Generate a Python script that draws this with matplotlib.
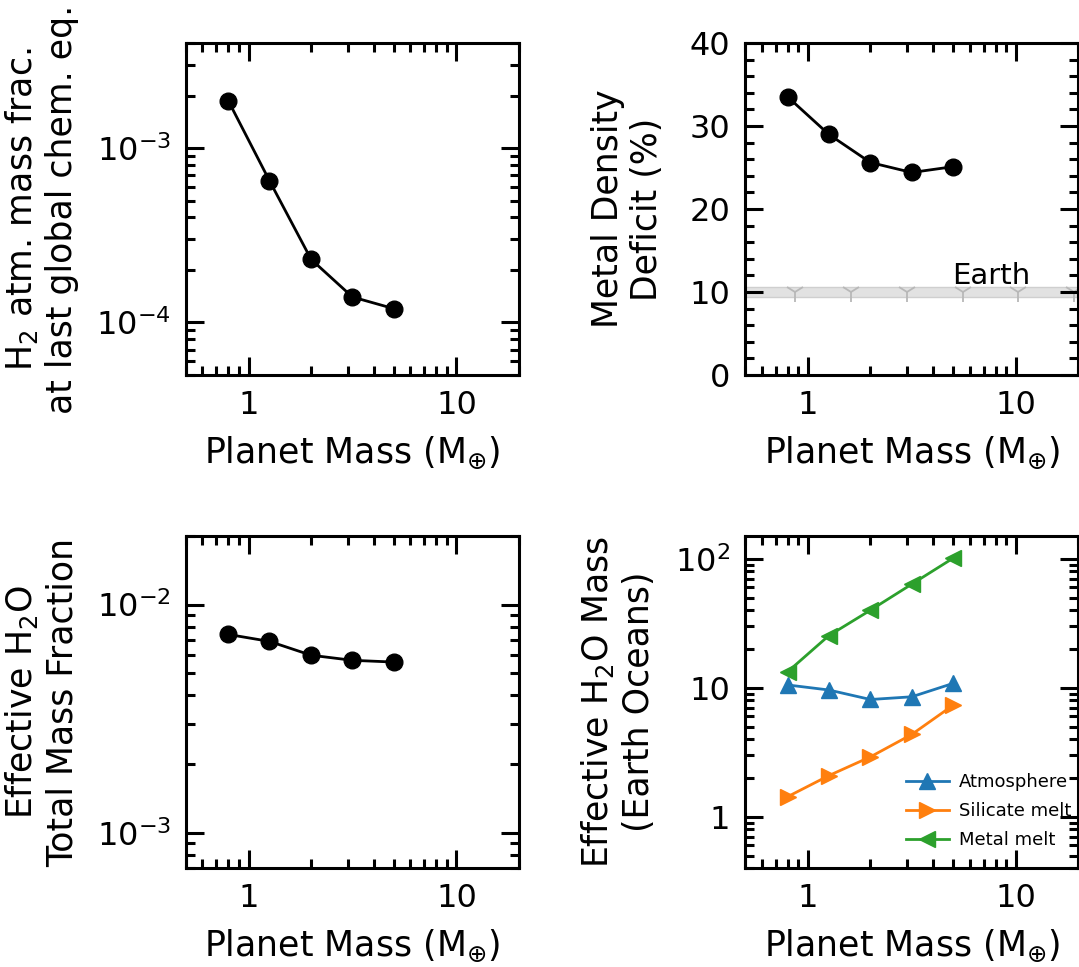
import numpy as np
import matplotlib
matplotlib.use('Agg')
import matplotlib.pyplot as plt
from matplotlib.ticker import LogLocator, MultipleLocator, NullFormatter

# font settings
plt.rcParams['font.family'] = ['DejaVu Sans']
plt.rcParams['mathtext.fontset'] = 'dejavusans'
plt.rcParams['mathtext.default'] = 'regular'
plt.rcParams['font.size'] = 23

# data
mass = [0.8, 1.26, 2.0, 3.16, 5.0]
h2_frac = [1.86e-3, 6.5e-4, 2.3e-4, 1.4e-4, 1.2e-4]
density_deficit = [33.5, 29.0, 25.6, 24.4, 25.1]
h2o_frac = [7.4e-3, 6.9e-3, 6.0e-3, 5.7e-3, 5.6e-3]
oceans_atm = [10.5, 9.6, 8.1, 8.5, 10.8]
oceans_sil = [1.43, 2.08, 2.91, 4.34, 7.32]
oceans_met = [13.3, 25.3, 39.9, 63.5, 101.0]

# Earth reference band
earth_deficit = 10.0
earth_band = [9.4, 10.6]
earth_marker_mass = [0.865, 1.62, 3.0, 5.57, 10.3, 19.1]

# ticks
mass_ticks = [1, 10]
mass_ticklabels = ['1', '10']
h2_ticks = [1e-4, 1e-3]
h2_ticklabels = [r'10$^{-4}$', r'10$^{-3}$']
deficit_ticks = [0, 10, 20, 30, 40]
h2o_ticks = [1e-3, 1e-2]
h2o_ticklabels = [r'10$^{-3}$', r'10$^{-2}$']
ocean_ticks = [1, 10, 100]
ocean_ticklabels = ['1', '10', r'10$^{2}$']

xlabel = r'Planet Mass (M$_{\oplus}$)'
LABEL_FS = 25
TICK_FS = 23


def style_axis(ax, logy=True):
    ax.set_xscale('log')
    ax.set_xlim(0.5, 20)
    ax.set_xticks(mass_ticks, mass_ticklabels)
    ax.xaxis.set_minor_locator(LogLocator(base=10, subs=np.arange(2, 10), numticks=30))
    ax.xaxis.set_minor_formatter(NullFormatter())
    if logy:
        ax.yaxis.set_minor_locator(LogLocator(base=10, subs=np.arange(2, 10), numticks=30))
        ax.yaxis.set_minor_formatter(NullFormatter())
    ax.tick_params(which='both', direction='in', top=True, right=True, width=2.2)
    ax.tick_params(which='major', length=13, pad=11, labelsize=TICK_FS)
    ax.tick_params(which='minor', length=6.5)
    for sp in ax.spines.values():
        sp.set_linewidth(2.2)
    ax.set_xlabel(xlabel, fontsize=LABEL_FS, labelpad=10)


fig = plt.figure(figsize=(10.79, 9.67), dpi=100)
w, h = 333 / 1079, 332 / 967
ax1 = fig.add_axes([186 / 1079, 1 - 375 / 967, w, h])
ax2 = fig.add_axes([745.3 / 1079, 1 - 375 / 967, w, h])
ax3 = fig.add_axes([186 / 1079, 1 - 868 / 967, w, h])
ax4 = fig.add_axes([745.3 / 1079, 1 - 868 / 967, w, h])

# --- H2 atmospheric mass fraction ---
ax1.plot(mass, h2_frac, 'o-', color='black', lw=2.0, ms=12)
ax1.set_yscale('log')
ax1.set_ylim(5e-5, 4e-3)
ax1.set_yticks(h2_ticks, h2_ticklabels)
style_axis(ax1)
ax1.set_ylabel('H$_2$ atm. mass frac.\nat last global chem. eq.', fontsize=LABEL_FS, labelpad=12)

# --- metal density deficit ---
ax2.axhspan(earth_band[0], earth_band[1], facecolor='#e2e2e2', edgecolor='#cfcfcf', lw=1.0, zorder=1)
ax2.plot(earth_marker_mass, [earth_deficit] * len(earth_marker_mass), linestyle='none',
         marker='1', ms=14, mew=1.3, color='#b8b8b8', zorder=1.5)
ax2.text(7.6, 11.0, 'Earth', fontsize=21, ha='center', va='baseline')
ax2.plot(mass, density_deficit, 'o-', color='black', lw=2.0, ms=12, zorder=3)
ax2.set_ylim(0, 40)
ax2.set_yticks(deficit_ticks)
ax2.yaxis.set_minor_locator(MultipleLocator(2))
style_axis(ax2, logy=False)
ax2.set_ylabel('Metal Density\nDeficit (%)', fontsize=LABEL_FS, labelpad=18)

# --- effective H2O total mass fraction ---
ax3.plot(mass, h2o_frac, 'o-', color='black', lw=2.0, ms=12)
ax3.set_yscale('log')
ax3.set_ylim(7e-4, 2e-2)
ax3.set_yticks(h2o_ticks, h2o_ticklabels)
style_axis(ax3)
ax3.set_ylabel('Effective H$_2$O\nTotal Mass Fraction', fontsize=LABEL_FS, labelpad=12)

# --- effective H2O mass in Earth oceans ---
ax4.plot(mass, oceans_atm, '^-', color='#1f77b4', lw=2.0, ms=11, label='Atmosphere')
ax4.plot(mass, oceans_sil, '>-', color='#ff7f0e', lw=2.0, ms=11, label='Silicate melt')
ax4.plot(mass, oceans_met, '<-', color='#2ca02c', lw=2.0, ms=11, label='Metal melt')
ax4.set_yscale('log')
ax4.set_ylim(0.4, 150)
ax4.set_yticks(ocean_ticks, ocean_ticklabels)
style_axis(ax4)
ax4.set_ylabel('Effective H$_2$O Mass\n(Earth Oceans)', fontsize=LABEL_FS, labelpad=14)
ax4.legend(loc='lower left', bbox_to_anchor=(0.46, 0.035), frameon=False, fontsize=13,
           handlelength=2.4, handletextpad=0.55, labelspacing=0.6, borderaxespad=0,
           markerscale=1.1)

fig.savefig('out.png', dpi=100)
